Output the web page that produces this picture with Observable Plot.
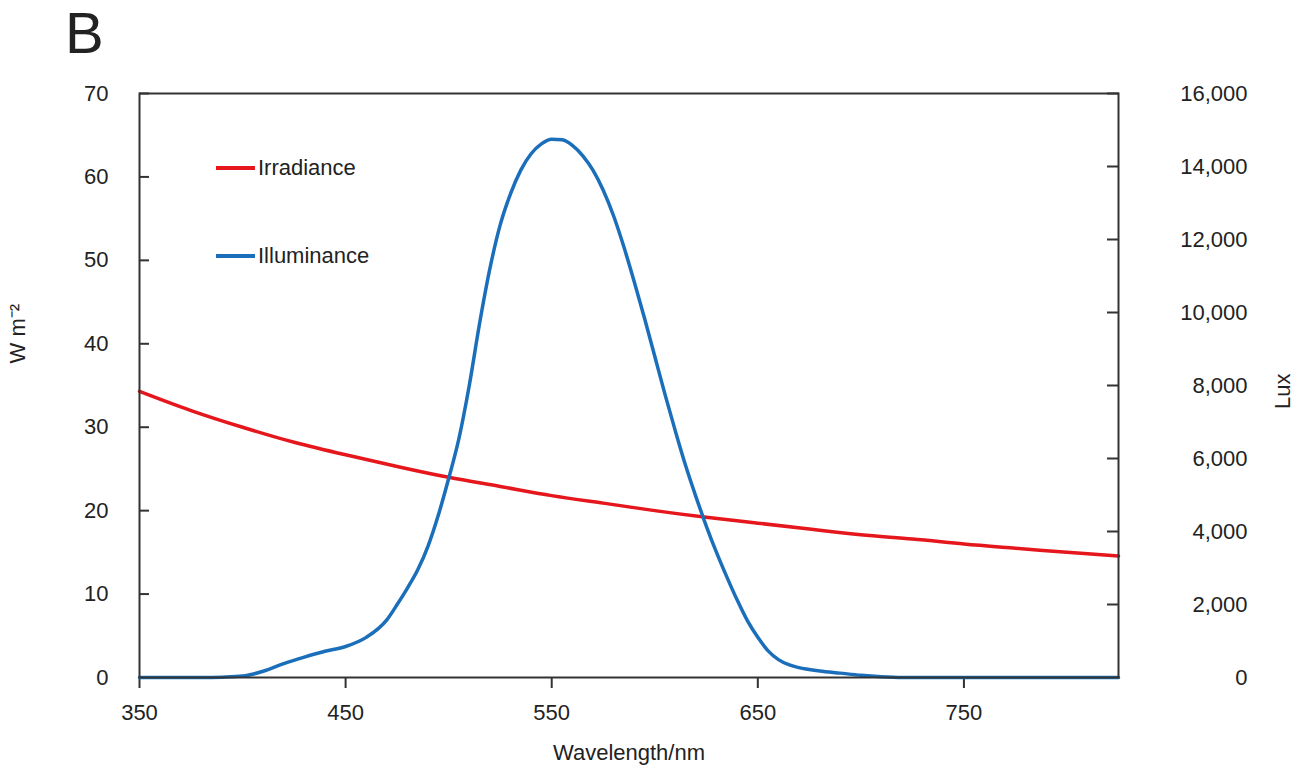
<!DOCTYPE html>
<html>
<head>
<meta charset="utf-8">
<script src="https://cdn.jsdelivr.net/npm/d3@7"></script>
<script src="https://cdn.jsdelivr.net/npm/@observablehq/plot@0.6"></script>
<style>
  body { margin: 0; background: #fff; }
  #wrap { position: relative; width: 1303px; height: 775px; font-family: "Liberation Sans", Arial, sans-serif; color: #222; }
  #panel { position: absolute; left: 65px; top: 4px; font-size: 58px; line-height: 1; }
  .key { position: absolute; left: 216px; font-size: 22px; display: flex; align-items: center; height: 24px; }
  .key i { display: inline-block; width: 39px; height: 4px; margin-right: 3px; }
</style>
</head>
<body>
<div id="wrap">
  <div id="panel">B</div>
  <div class="key" style="top:156px"><i style="background:#e5161c"></i>Irradiance</div>
  <div class="key" style="top:244px"><i style="background:#1b6fba"></i>Illuminance</div>
</div>
<script>
// Spectral irradiance (W m-2) across the wavelength range
const irrWavelength = [350, 375, 400, 425, 450, 475, 500, 525, 550, 575, 600, 625, 650, 675, 700, 725, 750, 775, 800, 825];
const irradiance    = [34.3, 32.0, 30.0, 28.2, 26.7, 25.3, 24.0, 22.9, 21.8, 20.9, 20.0, 19.2, 18.5, 17.8, 17.1, 16.6, 16.0, 15.5, 15.0, 14.55];

// Illuminance (lux) across the same range
const luxWavelength = [350, 370, 380, 390, 400, 410, 420, 430, 440, 450, 460, 470, 475, 480, 485, 490, 495, 500, 505, 510, 515, 520, 525, 530, 535, 540, 545, 550, 555, 560, 565, 570, 575, 580, 585, 590, 595, 600, 605, 610, 615, 620, 625, 630, 635, 640, 645, 650, 655, 660, 665, 670, 680, 690, 700, 710, 720, 760, 825];
const illuminance   = [0, 0, 0, 10, 40, 170, 380, 560, 720, 850, 1100, 1580, 2000, 2450, 2950, 3600, 4450, 5450, 6550, 8000, 9700, 11200, 12400, 13250, 13900, 14350, 14620, 14750, 14730, 14580, 14300, 13900, 13350, 12650, 11800, 10850, 9850, 8800, 7750, 6750, 5800, 4950, 4150, 3420, 2750, 2120, 1550, 1100, 730, 490, 350, 270, 180, 120, 60, 20, 0, 0, 0];

// Axis ticks
const xTicks = [350, 450, 550, 650, 750];
const wTicks = [0, 10, 20, 30, 40, 50, 60, 70];
const luxTicks = [0, 2000, 4000, 6000, 8000, 10000, 12000, 14000, 16000];

const wMax = 70, luxMax = 16000;
const toW = v => v * wMax / luxMax;   // lux -> left-axis units

const irr = irrWavelength.map((x, i) => ({x, v: irradiance[i]}));
const lux = luxWavelength.map((x, i) => ({x, v: illuminance[i]}));

const chart = Plot.plot({
  width: 1303,
  height: 775,
  marginTop: 93,
  marginLeft: 139,
  marginRight: 185,
  marginBottom: 98,
  style: { fontSize: "22px", fontFamily: "'Liberation Sans', Arial, sans-serif", color: "#222", background: "transparent" },
  x: { domain: [350, 825] },
  y: { domain: [0, wMax] },
  marks: [
    Plot.axisX(xTicks, { anchor: "bottom", tickSize: 11, tickPadding: 16, stroke: "#333", strokeWidth: 2,
      label: "Wavelength/nm", labelAnchor: "center", labelOffset: 82, labelArrow: "none" }),
    Plot.axisY(wTicks, { anchor: "left", tickSize: -10, tickPadding: 41, stroke: "#333", strokeWidth: 2, label: null }),
    Plot.axisY(luxTicks.map(toW), { anchor: "right", tickSize: -12, tickPadding: 141, textAnchor: "end",
      stroke: "#333", strokeWidth: 2, label: null,
      tickFormat: v => d3.format(",")(Math.round(v * luxMax / wMax)) }),
    // axis titles
    Plot.text(["W m⁻²"], { frameAnchor: "left", rotate: -90, dx: -122, dy: -22, fontSize: 22, fill: "#222" }),
    Plot.text(["Lux"], { frameAnchor: "right", rotate: -90, dx: 164, dy: -12, fontSize: 22, fill: "#222" }),
    Plot.line(irr, { x: "x", y: "v", stroke: "#e5161c", strokeWidth: 3.5, curve: "natural" }),
    Plot.line(lux, { x: "x", y: d => toW(d.v), stroke: "#1b6fba", strokeWidth: 3.5, curve: "monotone-x" }),
    Plot.frame({ stroke: "#333", strokeWidth: 2 })
  ]
});
chart.style.position = "absolute";
chart.style.left = "0";
chart.style.top = "0";
document.getElementById("wrap").prepend(chart);
</script>
</body>
</html>
